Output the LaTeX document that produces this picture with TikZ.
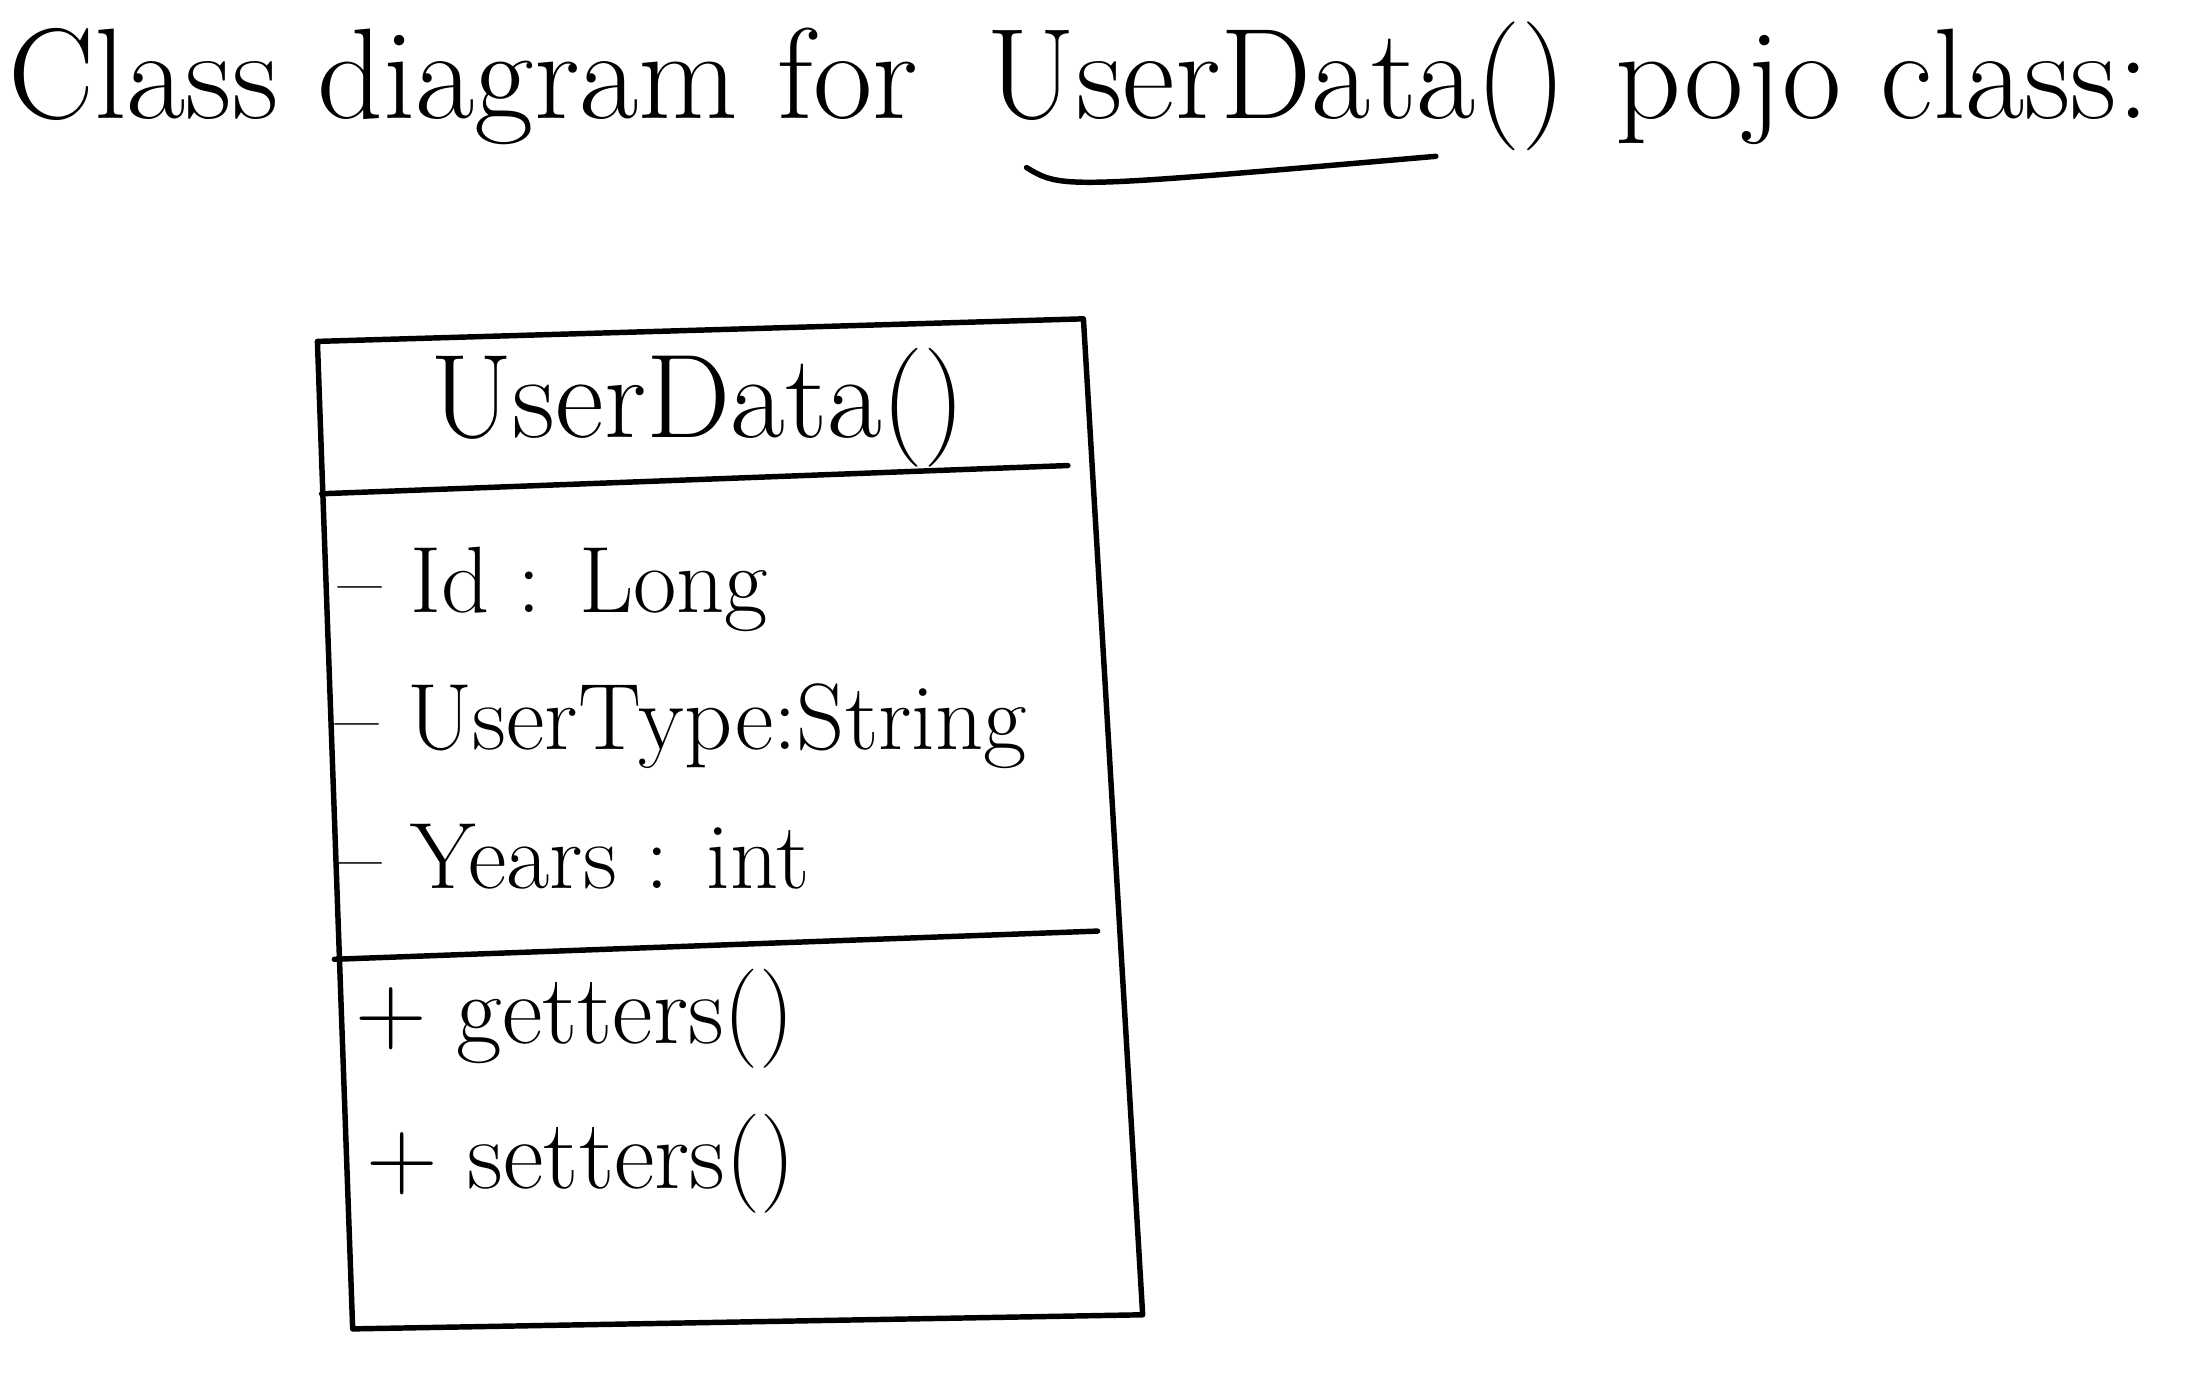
\documentclass[tikz,border=0pt]{standalone}
\usetikzlibrary{positioning}
\begin{document}
\begin{tikzpicture}[x=0.01cm, y=-0.01cm, line join=round, line cap=round, line width=1.1pt]
\tikzset{
  titel/.style={font=\fontsize{26}{30}\selectfont, inner sep=0pt},
  kopf/.style={font=\fontsize{24}{28}\selectfont, inner sep=0pt},
  feld/.style={font=\fontsize{19}{22}\selectfont, inner sep=0pt, anchor=west},
  methode/.style={font=\fontsize{20}{24}\selectfont, inner sep=0pt, anchor=west}
}
\useasboundingbox (0,0) rectangle (1568,984);
% Titel
\node[titel, anchor=base west] (t1) at (4,84) {Class diagram for};
\node[titel, base right=0.45cm of t1] (t2) {UserData()};
\node[titel, base right=0.3cm of t2] (t3) {pojo class:};
\coordinate (u1) at ([xshift=0.3cm,yshift=-0.1cm]t2.south west);
\coordinate (u2) at ([xshift=-0.95cm,yshift=-0.02cm]t2.south east);
\draw (u1) .. controls ([xshift=0.25cm,yshift=-0.15cm]u1) .. (u2); % Unterstrich
% Klassenkasten
\coordinate (A) at (225,242);
\coordinate (B) at (768,226);
\coordinate (C) at (810,932);
\coordinate (D) at (250,942);
\draw (A)--(B)--(C)--(D)--cycle;
\draw (228,350)--(757,330);
\draw (237,680)--(778,660);
\path
(495,289) node[kopf] (name) {UserData()}
(238,418) node[feld] (id) {\textendash\ Id : Long}
(236,515) node[feld] (typ) {\textendash\ UserType:String}
(238,607) node[feld] (jahre) {\textendash\ Years : int}
(250,722) node[methode] (get) {+ getters()}
(258,825) node[methode] (set) {+ setters()};
\end{tikzpicture}
\end{document}
